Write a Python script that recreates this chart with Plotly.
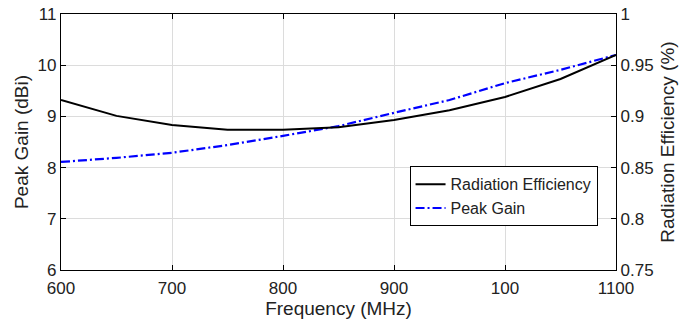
import plotly.graph_objects as go

freq = [600, 650, 700, 750, 800, 850, 900, 950, 1000, 1050, 1100]
rad_eff = [0.916, 0.9005, 0.8915, 0.887, 0.887, 0.8895, 0.8965, 0.906, 0.919, 0.9365, 0.960]
peak_gain = [8.11, 8.19, 8.29, 8.44, 8.62, 8.81, 9.07, 9.32, 9.65, 9.91, 10.2]

x_ticks = [600, 700, 800, 900, 1000, 1100]
x_ticktext = ["600", "700", "800", "900", "100", "1100"]
y1_ticks = [6, 7, 8, 9, 10, 11]
y2_ticks = [0.75, 0.8, 0.85, 0.9, 0.95, 1.0]
y2_ticktext = ["0.75", "0.8", "0.85", "0.9", "0.95", "1"]

FONT = "Liberation Sans, Arial, sans-serif"
TXT = "#222222"

fig = go.Figure()
fig.add_trace(go.Scatter(x=freq, y=rad_eff, name="Radiation Efficiency", yaxis="y2",
                         mode="lines", line=dict(color="black", width=2)))
fig.add_trace(go.Scatter(x=freq, y=peak_gain, name="Peak Gain", yaxis="y",
                         mode="lines", line=dict(color="#0000ff", width=2.2, dash="9px,3px,2px,3px")))

axis_common = dict(showline=True, linecolor="black", linewidth=1.3, ticks="inside",
                   ticklen=5, tickcolor="black", zeroline=False, automargin=False,
                   tickfont=dict(family=FONT, size=17, color=TXT))

fig.update_layout(
    width=683, height=325,
    margin=dict(l=61, r=67, t=14, b=55),
    paper_bgcolor="white", plot_bgcolor="white",
    font=dict(family=FONT, color=TXT),
    showlegend=True,
    legend=dict(x=0.628, y=0.405, xanchor="left", yanchor="top",
                bgcolor="white", bordercolor="black", borderwidth=1,
                font=dict(family=FONT, size=16, color=TXT),
                tracegroupgap=0, itemwidth=30),
    xaxis=dict(range=[600, 1100], tickvals=x_ticks, ticktext=x_ticktext,
               mirror="ticks", showgrid=True, gridcolor="#dcdcdc", gridwidth=1,
               ticklabelstandoff=2,
               title=dict(text="Frequency (MHz)", font=dict(family=FONT, size=19, color=TXT), standoff=2),
               **axis_common),
    yaxis=dict(range=[6, 11], tickvals=y1_ticks, showgrid=True, gridcolor="#dcdcdc", gridwidth=1,
               title=dict(text="Peak Gain (dBi)", font=dict(family=FONT, size=19, color=TXT), standoff=3),
               **axis_common),
    yaxis2=dict(range=[0.75, 1.0], tickvals=y2_ticks, ticktext=y2_ticktext,
                overlaying="y", side="right", showgrid=False,
                title=dict(text="Radiation Efficiency (%)", font=dict(family=FONT, size=19, color=TXT), standoff=8),
                **axis_common),
)

fig.write_html("out.html")
